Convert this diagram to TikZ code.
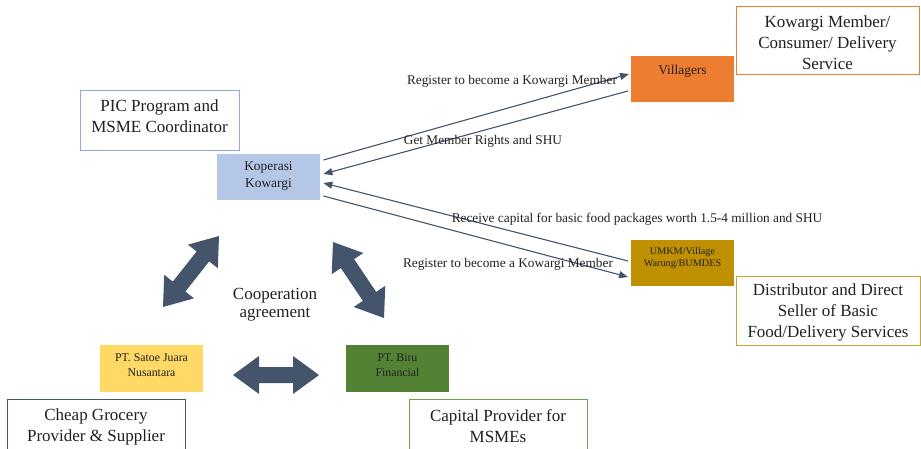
\documentclass[tikz,border=0pt]{standalone}
\usepackage{fontspec}
\setmainfont{Liberation Serif}
\usetikzlibrary{arrows.meta,calc}

\definecolor{slate}{HTML}{44546A}
\definecolor{kopfill}{HTML}{B4C7E7}
\definecolor{picline}{HTML}{8FAADC}
\definecolor{orangefill}{HTML}{ED7D31}
\definecolor{goldfill}{HTML}{BF9000}
\definecolor{goldline}{HTML}{C8A53C}
\definecolor{yellowfill}{HTML}{FFD966}
\definecolor{greenfill}{HTML}{548235}
\definecolor{greenline}{HTML}{70A050}
\definecolor{inktext}{HTML}{202020}

\newcommand\bigtxt{\fontsize{17}{21}\selectfont}
\newcommand\midtxt{\fontsize{17}{18}\selectfont}
\newcommand\lbltxt{\fontsize{13.3}{15}\selectfont}
\newcommand\kwtxt{\fontsize{13.4}{17}\selectfont}
\newcommand\boxtxt{\fontsize{11.8}{15}\selectfont}
\newcommand\tinytxt{\fontsize{10.2}{12}\selectfont}

\tikzset{
  x=1pt, y=-1pt,
  panel/.style={draw=#1, line width=0.9pt, fill=white, inner sep=0pt, anchor=north west},
  block/.style={fill=#1, inner sep=0pt, anchor=north west},
  caption/.style={inner sep=0pt, align=center, text=inktext},
  flow/.style={draw=slate, line width=1.1pt, -{Triangle[length=9pt,width=7pt]}},
  pics/dblarrow/.style={code={
    \fill[slate] (0,0) -- (26,19) -- (26,8) -- (#1-26,8) -- (#1-26,19) -- (#1,0)
      -- (#1-26,-19) -- (#1-26,-8) -- (26,-8) -- (26,-19) -- cycle;
  }}
}

\begin{document}
\begin{tikzpicture}
\useasboundingbox (0,0) rectangle (921,449);
\clip (0,0) rectangle (921,449);

% role descriptions (outlined boxes)
\node[panel=picline, minimum width=159pt, minimum height=60pt] (picbox) at (80,90) {};
\node[caption, font=\bigtxt] (pictext) at (159.5,116.5) {PIC Program and\\MSME Coordinator};

\node[panel=orangefill, minimum width=183pt, minimum height=68pt] (membox) at (736,6) {};
\node[caption, font=\bigtxt] (memtext) at (827.5,42.5) {Kowargi Member/\\Consumer/ Delivery\\Service};

\node[panel=goldline, minimum width=184pt, minimum height=69pt] (distbox) at (736,276) {};
\node[caption, font=\bigtxt] (disttext) at (828,312.5) {Distributor and Direct\\Seller of Basic\\Food/Delivery Services};

\node[panel=slate, minimum width=178pt, minimum height=71pt] (grocbox) at (7,399) {};
\node[caption, font=\bigtxt] (groctext) at (96,426.5) {Cheap Grocery\\Provider \& Supplier};

\node[panel=greenline, minimum width=178pt, minimum height=71pt] (capbox) at (409,399) {};
\node[caption, font=\bigtxt] (captext) at (498,426.5) {Capital Provider for\\MSMEs};

% actors (filled boxes)
\node[block=kopfill, minimum width=103pt, minimum height=46pt] (kop) at (217,154) {};
\node[caption, font=\kwtxt] (koptext) at (268.5,176.5) {Koperasi\\Kowargi};

\node[block=orangefill, minimum width=103pt, minimum height=46pt] (vil) at (631,56) {};
\node[caption, font=\kwtxt] (viltext) at (682.5,71) {Villagers};

\node[block=goldfill, minimum width=103pt, minimum height=46pt] (umkm) at (631,240) {};
\node[caption, font=\tinytxt] (umkmtext) at (682.5,258) {UMKM/Village\\Warung/BUMDES};

\node[block=yellowfill, minimum width=103pt, minimum height=47pt] (satoe) at (100,345) {};
\node[caption, font=\boxtxt] (satoetext) at (151.5,365.5) {PT. Satoe Juara\\Nusantara};

\node[block=greenfill, minimum width=103pt, minimum height=47pt] (biru) at (346,345) {};
\node[caption, font=\boxtxt] (birutext) at (397.5,365.5) {PT. Biru\\Financial};

% membership and capital flows
\draw[flow] ($(kop.north east)+(3,6)$) -- ($(vil.north west)+(-2,18)$);
\draw[flow] ($(vil.north west)+(-3,35)$) -- ($(kop.north east)+(3,20)$);
\draw[flow] ($(umkm.north west)+(-3,21)$) -- ($(kop.north east)+(3,29)$);
\draw[flow] ($(kop.north east)+(3,42)$) -- ($(umkm.north west)+(-3,37)$);

\node[caption, font=\lbltxt] (lblreg1) at (512,81) {Register to become a Kowargi Member};
\node[caption, font=\lbltxt] (lblrights) at (483,141) {Get Member Rights and SHU};
\node[caption, font=\lbltxt] (lblcapital) at (637,219) {Receive capital for basic food packages worth 1.5-4 million and SHU};
\node[caption, font=\lbltxt] (lblreg2) at (508,264) {Register to become a Kowargi Member};

% cooperation agreement between the three parties
\coordinate (la) at (163,307);
\coordinate (lb) at (219,236);
\coordinate (ra) at (333,242);
\coordinate (rb) at (384,318);
\coordinate (ha) at (233,375);
\coordinate (hb) at (319,375);
\foreach \a/\b in {la/lb, ra/rb, ha/hb}{
  \path let \p1=($(\b)-(\a)$), \n1={atan2(\y1,\x1)}, \n2={veclen(\x1,\y1)} in
    pic[rotate=\n1] at (\a) {dblarrow=\n2};
}
\node[caption, font=\midtxt] (coop) at (275,305) {Cooperation\\agreement};
\end{tikzpicture}
\end{document}
